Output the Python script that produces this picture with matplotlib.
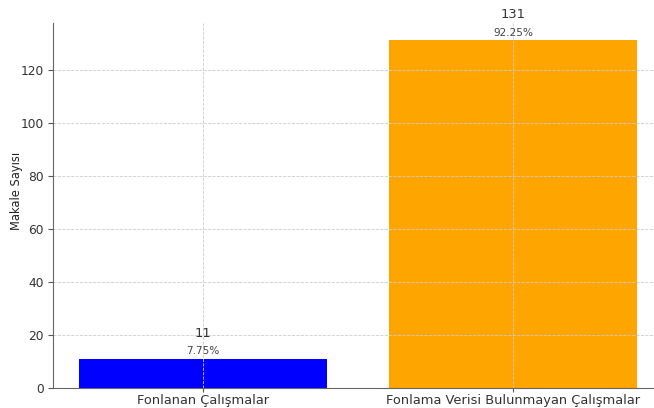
import matplotlib.pyplot as plt

# datos del grafico
kategoriler = ["Fonlanan Çalışmalar", "Fonlama Verisi Bulunmayan Çalışmalar"]
sayilar = [11, 131]
yuzdeler = ["7.75%", "92.25%"]
renkler = ["blue", "orange"]

fig = plt.figure(figsize=(6.54, 4.08), dpi=100)
ax = fig.add_axes([0.081, 0.049, 0.919, 0.895])

x = range(len(kategoriler))
ax.bar(x, sayilar, color=renkler, width=0.8)

for i, (s, p) in enumerate(zip(sayilar, yuzdeler)):
    ax.text(i, s + 9.6, str(s), ha="center", va="center", fontsize=9.4, color="#333333")
    ax.text(i, s + 2.9, p, ha="center", va="center", fontsize=7.6, color="#444444")

ax.set_xticks(list(x))
ax.set_xticklabels(kategoriler, fontsize=9.4, color="#333333")
ax.set_ylabel("Makale Sayısı", fontsize=8.3, color="#222222")
ax.yaxis.set_label_coords(-0.05, 0.54)
ax.tick_params(axis="y", labelsize=8.8, labelcolor="#333333", color="#555555", pad=3)
ax.tick_params(axis="x", color="#555555", length=3, pad=1.5)
ax.set_xlim(-0.484, 1.455)
ax.set_ylim(0, 137.6)

ax.grid(True, linestyle="--", linewidth=0.6, color="#cccccc")
for lado in ["top", "right"]:
    ax.spines[lado].set_visible(False)
for lado in ["left", "bottom"]:
    ax.spines[lado].set_color("#666666")

fig.savefig("out.png", dpi=100)
